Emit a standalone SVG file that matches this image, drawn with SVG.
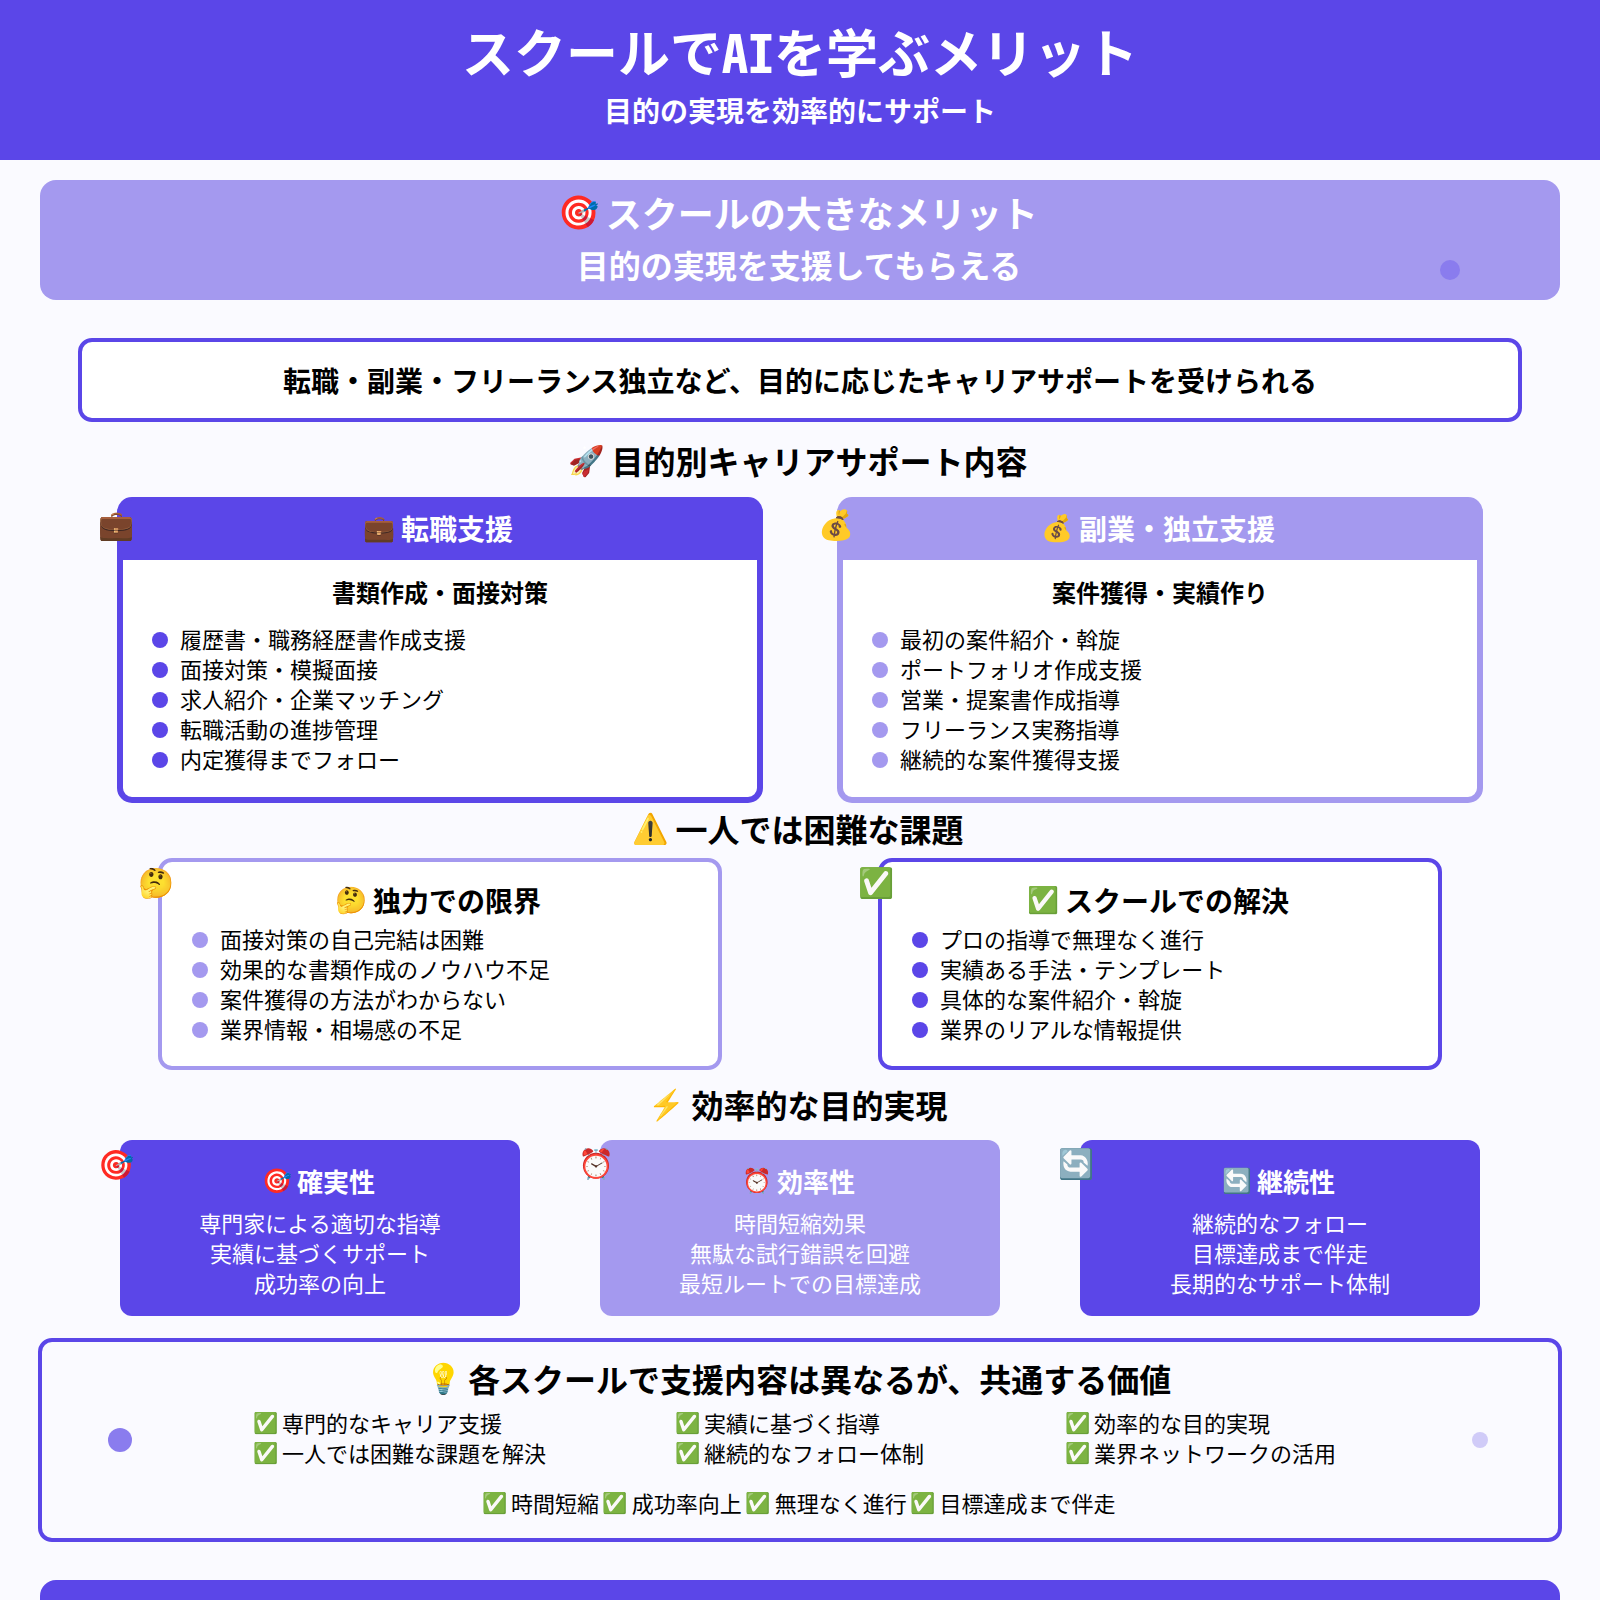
<svg xmlns="http://www.w3.org/2000/svg" width="1600" height="1600" viewBox="0 0 1600 1600">
<style>
text{font-family:"Noto Sans CJK JP","Liberation Sans",sans-serif;fill:#000}
.c{text-anchor:middle}
.b{font-weight:700}
.w{fill:#fff}
.t32{font-size:32px;font-weight:700}
.t28{font-size:28px;font-weight:700}
.i{font-size:22px}
.s{font-size:24px;font-weight:700}
.em{font-size:29px}
.e{font-size:.92em;font-weight:400;letter-spacing:-.03em;baseline-shift:.11em}
.ai{font-family:"Noto Sans Mono CJK JP","DejaVu Sans Mono",monospace}
.dk{fill:#5b46e8}
.lt{fill:#a499ef}
.cardw{fill:#fff;stroke-width:6}
.cardn{fill:#fff;stroke-width:4}
.skd{stroke:#5b46e8}
.slt{stroke:#a499ef}
</style>
<rect width="1600" height="1600" fill="#fafaff"/>
<g id="header">
<rect width="1600" height="160" class="dk"/>
<text x="800" y="73" class="c b w" font-size="52">スクールで<tspan class="ai">AI</tspan>を学ぶメリット</text>
<text x="800" y="122" class="c b t28 w" style="fill:#fff">目的の実現を効率的にサポート</text>
</g>
<g id="banner">
<rect x="40" y="180" width="1520" height="120" rx="16" class="lt"/>
<text x="800" y="228" class="c b w" font-size="36"><tspan class="e" dx="-.07em">🎯</tspan> スクールの大きなメリット</text>
<text x="799" y="278" class="c b w" font-size="32">目的の実現を支援してもらえる</text>
<circle cx="1450" cy="270" r="10" fill="#8a7cee"/>
</g>
<g id="lead">
<rect x="80" y="340" width="1440" height="80" rx="12" class="cardn skd"/>
<text x="800" y="392" class="c t28">転職・副業・フリーランス独立など、目的に応じたキャリアサポートを受けられる</text>
</g>
<text x="800" y="474" class="c t32"><tspan class="e" dx="-.07em">🚀</tspan> 目的別キャリアサポート内容</text>
<g id="card-job">
<rect x="120" y="500" width="640" height="300" rx="12" class="cardw skd"/>
<path d="M120 560V512a12 12 0 0 1 12-12H748a12 12 0 0 1 12 12V560Z" class="dk"/>
<text x="440" y="540" class="c t28 w" style="fill:#fff"><tspan class="e" dx="-.07em">💼</tspan> 転職支援</text>
<text x="116" y="535" class="c em">💼</text>
<text x="440" y="602" class="c s">書類作成・面接対策</text>
<g class="dk"><circle cx="160" cy="640" r="8"/><circle cx="160" cy="670" r="8"/><circle cx="160" cy="700" r="8"/><circle cx="160" cy="730" r="8"/><circle cx="160" cy="760" r="8"/></g>
<g class="i">
<text x="180" y="647.5">履歴書・職務経歴書作成支援</text>
<text x="180" y="677.5">面接対策・模擬面接</text>
<text x="180" y="707.5">求人紹介・企業マッチング</text>
<text x="180" y="737.5">転職活動の進捗管理</text>
<text x="180" y="767.5">内定獲得までフォロー</text>
</g>
</g>
<g id="card-side">
<rect x="840" y="500" width="640" height="300" rx="12" class="cardw slt"/>
<path d="M840 560V512a12 12 0 0 1 12-12H1468a12 12 0 0 1 12 12V560Z" class="lt"/>
<text x="1160" y="540" class="c t28 w" style="fill:#fff"><tspan class="e" dx="-.07em">💰</tspan> 副業・独立支援</text>
<text x="836" y="535" class="c em">💰</text>
<text x="1160" y="602" class="c s">案件獲得・実績作り</text>
<g class="lt"><circle cx="880" cy="640" r="8"/><circle cx="880" cy="670" r="8"/><circle cx="880" cy="700" r="8"/><circle cx="880" cy="730" r="8"/><circle cx="880" cy="760" r="8"/></g>
<g class="i">
<text x="900" y="647.5">最初の案件紹介・斡旋</text>
<text x="900" y="677.5">ポートフォリオ作成支援</text>
<text x="900" y="707.5">営業・提案書作成指導</text>
<text x="900" y="737.5">フリーランス実務指導</text>
<text x="900" y="767.5">継続的な案件獲得支援</text>
</g>
</g>
<text x="800" y="842" class="c t32"><tspan class="e" dx="-.07em">⚠️</tspan> 一人では困難な課題</text>
<g id="card-limit">
<rect x="160" y="860" width="560" height="208" rx="12" class="cardn slt"/>
<text x="440" y="912" class="c t28"><tspan class="e" dx="-.07em">🤔</tspan> 独力での限界</text>
<text x="156" y="893" class="c em">🤔</text>
<g class="lt"><circle cx="200" cy="940" r="8"/><circle cx="200" cy="970" r="8"/><circle cx="200" cy="1000" r="8"/><circle cx="200" cy="1030" r="8"/></g>
<g class="i">
<text x="220" y="947.5">面接対策の自己完結は困難</text>
<text x="220" y="977.5">効果的な書類作成のノウハウ不足</text>
<text x="220" y="1007.5">案件獲得の方法がわからない</text>
<text x="220" y="1037.5">業界情報・相場感の不足</text>
</g>
</g>
<g id="card-solve">
<rect x="880" y="860" width="560" height="208" rx="12" class="cardn skd"/>
<text x="1160" y="912" class="c t28"><tspan class="e" dx="-.07em">✅</tspan> スクールでの解決</text>
<text x="876" y="893" class="c em">✅</text>
<g class="dk"><circle cx="920" cy="940" r="8"/><circle cx="920" cy="970" r="8"/><circle cx="920" cy="1000" r="8"/><circle cx="920" cy="1030" r="8"/></g>
<g class="i">
<text x="940" y="947.5">プロの指導で無理なく進行</text>
<text x="940" y="977.5">実績ある手法・テンプレート</text>
<text x="940" y="1007.5">具体的な案件紹介・斡旋</text>
<text x="940" y="1037.5">業界のリアルな情報提供</text>
</g>
</g>
<text x="800" y="1118" class="c t32"><tspan class="e" dx="-.07em">⚡</tspan> 効率的な目的実現</text>
<g id="card-sure">
<rect x="120" y="1140" width="400" height="176" rx="12" class="dk"/>
<text x="320" y="1192" class="c b" font-size="26" style="fill:#fff"><tspan class="e" dx="-.07em">🎯</tspan> 確実性</text>
<text x="116" y="1175" class="c em">🎯</text>
<g class="i c">
<text x="320" y="1231.5" class="w">専門家による適切な指導</text>
<text x="320" y="1261.5" class="w">実績に基づくサポート</text>
<text x="320" y="1291.5" class="w">成功率の向上</text>
</g>
</g>
<g id="card-fast">
<rect x="600" y="1140" width="400" height="176" rx="12" class="lt"/>
<text x="800" y="1192" class="c b" font-size="26" style="fill:#fff"><tspan class="e" dx="-.07em">⏰</tspan> 効率性</text>
<text x="596" y="1174" class="c em">⏰</text>
<g class="i c">
<text x="800" y="1231.5" class="w">時間短縮効果</text>
<text x="800" y="1261.5" class="w">無駄な試行錯誤を回避</text>
<text x="800" y="1291.5" class="w">最短ルートでの目標達成</text>
</g>
</g>
<g id="card-keep">
<rect x="1080" y="1140" width="400" height="176" rx="12" class="dk"/>
<text x="1280" y="1192" class="c b" font-size="26" style="fill:#fff"><tspan class="e" dx="-.07em">🔄</tspan> 継続性</text>
<text x="1076" y="1174" class="c em">🔄</text>
<g class="i c">
<text x="1280" y="1231.5" class="w">継続的なフォロー</text>
<text x="1280" y="1261.5" class="w">目標達成まで伴走</text>
<text x="1280" y="1291.5" class="w">長期的なサポート体制</text>
</g>
</g>
<g id="summary">
<rect x="40" y="1340" width="1520" height="200" rx="12" fill="#fafaff" class="skd" stroke-width="4"/>
<text x="800" y="1392" class="c t32"><tspan class="e" dx="-.07em">💡</tspan> 各スクールで支援内容は異なるが、共通する価値</text>
<g class="i">
<text x="254" y="1431.5"><tspan class="e" dx="-.07em">✅</tspan> 専門的なキャリア支援</text>
<text x="254" y="1461.5"><tspan class="e" dx="-.07em">✅</tspan> 一人では困難な課題を解決</text>
<text x="676" y="1431.5"><tspan class="e" dx="-.07em">✅</tspan> 実績に基づく指導</text>
<text x="676" y="1461.5"><tspan class="e" dx="-.07em">✅</tspan> 継続的なフォロー体制</text>
<text x="1066" y="1431.5"><tspan class="e" dx="-.07em">✅</tspan> 効率的な目的実現</text>
<text x="1066" y="1461.5"><tspan class="e" dx="-.07em">✅</tspan> 業界ネットワークの活用</text>
</g>
<text x="800" y="1511.5" class="c i"><tspan class="e" dx="-.07em">✅</tspan> 時間短縮 <tspan class="e" dx="-.07em">✅</tspan> 成功率向上 <tspan class="e" dx="-.07em">✅</tspan> 無理なく進行 <tspan class="e" dx="-.07em">✅</tspan> 目標達成まで伴走</text>
<circle cx="120" cy="1440" r="12" fill="#8a7cee"/>
<circle cx="1480" cy="1440" r="8" fill="#d0cbf8"/>
</g>
<g id="footer"><rect x="40" y="1580" width="1520" height="60" rx="16" class="dk"/></g>
</svg>
